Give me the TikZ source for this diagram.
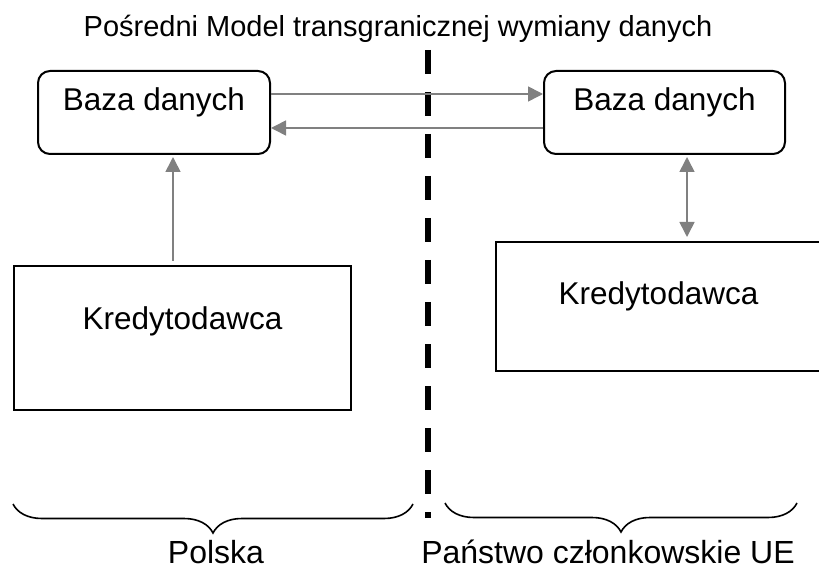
\documentclass[tikz,border=0pt]{standalone}
\usepackage{xcolor}
\usepackage{fontspec}
\setmainfont{Liberation Sans}
\usepackage{tikz}
\usetikzlibrary{positioning,arrows.meta,decorations.pathreplacing,calc}

\definecolor{arrowgray}{RGB}{128,128,128}

\begin{document}
\begin{tikzpicture}[x=1pt, y=-1pt,
    dbbox/.style={rectangle, draw, line width=2pt, rounded corners=12pt, inner sep=0pt, text height=40pt, text depth=43pt, align=center, font=\fontsize{31.5}{36}\selectfont},
    lender/.style={rectangle, draw, line width=2pt, inner sep=0pt, text height=63pt, align=center, font=\fontsize{31.5}{36}\selectfont},
    arrow/.style={-{Triangle[length=15pt,width=15pt]}, draw=arrowgray, fill=arrowgray, line width=1.6pt},
    dblarrow/.style={{Triangle[length=15pt,width=15pt]}-{Triangle[length=15pt,width=15pt]}, draw=arrowgray, fill=arrowgray, line width=1.6pt},
    regionbrace/.style={decorate, decoration={brace, mirror, amplitude=29pt}, line width=1.6pt},
    regiontext/.style={anchor=base, font=\fontsize{32}{38}\selectfont}]
    \useasboundingbox (0,0) rectangle (819,569);

    % Title
    \node[anchor=base, font=\fontsize{29}{34}\selectfont] (title) at (398,37) {Pośredni Model transgranicznej wymiany danych};

    % Databases
    \node[dbbox, minimum width=232pt, anchor=north west] (dbL) at (37,70) {Baza danych};
    \node[dbbox, minimum width=241pt, right=272pt of dbL] (dbR) {Baza danych};

    % Lenders
    \node[lender, minimum width=337pt, text depth=81pt, below=110pt of dbL, xshift=28.5pt] (kredL) {Kredytodawca};
    \node[lender, minimum width=325pt, text depth=66pt, below=86pt of dbR, xshift=-6pt] (kredR) {Kredytodawca};

    % Border between the countries
    \coordinate (sepTop) at (428,50);
    \coordinate (sepBot) at (428,518);
    \draw[line width=6.5pt, dash pattern=on 24pt off 18pt] (sepTop) -- (sepBot);

    % Connect with arrows
    \draw[arrow] ([yshift=18.5pt]dbL.east) -- ([yshift=18.5pt]dbL.east -| dbR.west);
    \draw[arrow] ([yshift=-15.5pt]dbR.west) -- ([yshift=-15.5pt]dbR.west -| dbL.east);
    \draw[arrow, shorten >=2pt] ([xshift=-9.5pt,yshift=4pt]kredL.north) -- ([xshift=-9.5pt]kredL.north |- dbL.south);
    \draw[dblarrow, shorten <=2pt, shorten >=4pt] ([xshift=22.5pt]dbR.south) -- ([xshift=22.5pt]dbR.south |- kredR.north);

    % Regions
    \draw[regionbrace] (13,504) -- (413,504);
    \draw[regionbrace] (445,503) -- (797,503);
    \node[regiontext] (pl) at (216,563) {Polska};
    \node[regiontext] (ue) at (608,563) {Państwo członkowskie UE};
\end{tikzpicture}
\end{document}
